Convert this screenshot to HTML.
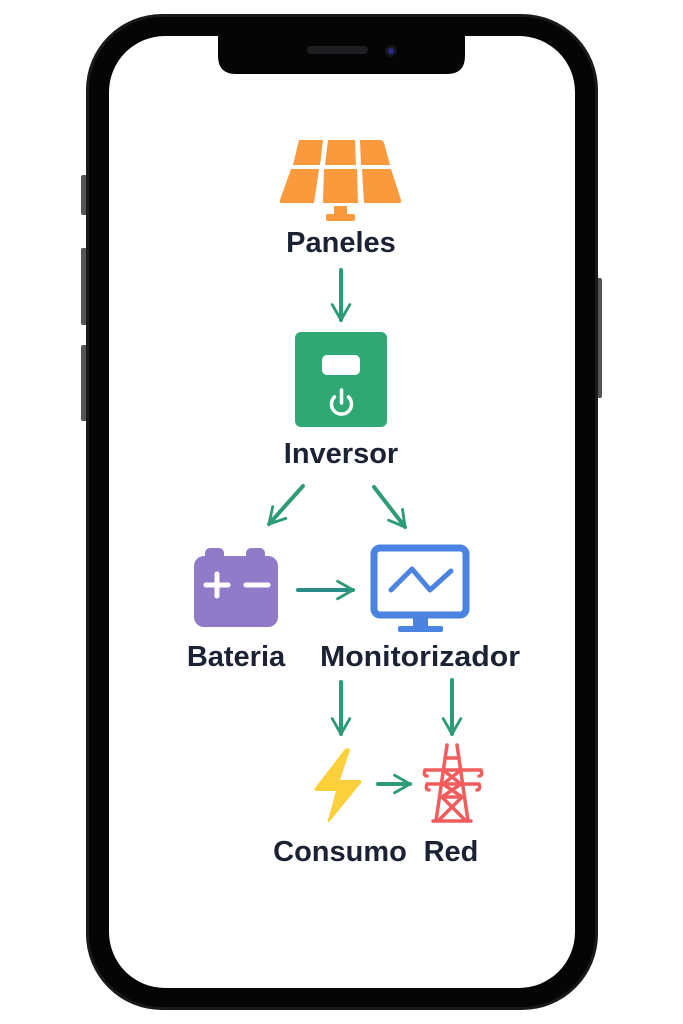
<!DOCTYPE html>
<html><head><meta charset="utf-8"><style>
html,body{margin:0;padding:0;background:#fff;width:683px;height:1024px;overflow:hidden}
svg{display:block}
text{font-family:"Liberation Sans","DejaVu Sans",sans-serif;font-weight:bold;fill:#1a2233;font-size:29px;text-anchor:middle}
</style></head><body>
<svg width="683" height="1024" viewBox="0 0 683 1024">
<defs>
<marker id="ah" viewBox="0 0 10 10" refX="8" refY="5" markerWidth="5.5" markerHeight="5.5" orient="auto" markerUnits="strokeWidth">
<path d="M1,1 L8,5 L1,9" fill="none" stroke="#2e9a78" stroke-width="1.3" stroke-linecap="round" stroke-linejoin="round"/>
</marker>
</defs>
<rect x="81" y="175" width="6" height="40" rx="2" fill="#555"/>
<rect x="81" y="248" width="6" height="77" rx="2" fill="#555"/>
<rect x="81" y="345" width="6" height="76" rx="2" fill="#555"/>
<rect x="596" y="278" width="6" height="120" rx="2" fill="#555"/>
<rect x="86" y="14" width="512" height="996" rx="76" fill="#1a1a1a"/>
<rect x="89" y="17" width="506" height="990" rx="73" fill="#050505"/>
<rect x="109" y="36" width="466" height="952" rx="56" fill="#fff"/>
<path d="M218,36 H465 V56 Q465,74 447,74 H236 Q218,74 218,56 Z" fill="#050505"/>
<rect x="307" y="46" width="61" height="8" rx="4" fill="#1e1e22"/>
<circle cx="391" cy="51" r="6" fill="#15151c"/><circle cx="391" cy="51" r="3" fill="#2a2a8a"/>
<g fill="#fa9a3c">
<path d="M299,140 H323 L320,165 H293 Z"/>
<path d="M328,140 H355 L356,165 H325 Z"/>
<path d="M360,140 H380 Q383,140 384,143 L390,165 H361 Z"/>
<path d="M291,169 H319 L314,203 H282 Q279,203 280,200 Z"/>
<path d="M324,169 H357 L358,203 H323 Z"/>
<path d="M362,169 H391 L401,200 Q402,203 399,203 H364 Z"/>
<rect x="334" y="206" width="13" height="9"/>
<rect x="326" y="214" width="29" height="7" rx="2"/>
</g>
<text x="341" y="252">Paneles</text>
<rect x="295" y="332" width="92" height="95" rx="6" fill="#2fa874"/>
<rect x="322" y="355" width="38" height="20" rx="5" fill="#fff"/>
<path d="M334.5,397 A10,10 0 1 0 348.5,397" fill="none" stroke="#fff" stroke-width="3.5" stroke-linecap="round"/>
<line x1="341.5" y1="390" x2="341.5" y2="403" stroke="#fff" stroke-width="3.5" stroke-linecap="round"/>
<text x="341" y="463">Inversor</text>
<g stroke="#2e9a78" stroke-width="4" stroke-linecap="round" fill="none" marker-end="url(#ah)">
<line x1="341" y1="270" x2="341" y2="320"/>
<line x1="303" y1="486" x2="269" y2="524"/>
<line x1="374" y1="487" x2="405" y2="527"/>
<line x1="298" y1="590" x2="353" y2="590" stroke="#2a8c86"/>
<line x1="341" y1="682" x2="341" y2="734"/>
<line x1="452" y1="680" x2="452" y2="734"/>
<line x1="378" y1="784" x2="410" y2="784"/>
</g>
<g fill="#8f7bc8">
<rect x="205" y="548" width="19" height="14" rx="5"/>
<rect x="246" y="548" width="19" height="14" rx="5"/>
<rect x="194" y="556" width="84" height="71" rx="10"/>
</g>
<g stroke="#fff" stroke-width="5" stroke-linecap="round">
<line x1="206" y1="585" x2="228" y2="585"/><line x1="217" y1="574" x2="217" y2="596"/>
<line x1="246" y1="585" x2="268" y2="585"/>
</g>
<text x="236" y="666">Bateria</text>
<rect x="374" y="548" width="92" height="67" rx="6" fill="none" stroke="#4a84e0" stroke-width="7"/>
<rect x="413" y="617" width="15" height="11" fill="#4a84e0"/>
<rect x="398" y="626" width="45" height="6" rx="2" fill="#4a84e0"/>
<polyline points="391,590 412,569 430,590 451,571" fill="none" stroke="#4a84e0" stroke-width="5" stroke-linecap="round" stroke-linejoin="round"/>
<text x="420" y="666" textLength="200" lengthAdjust="spacingAndGlyphs">Monitorizador</text>
<path d="M345,749 L315,788 Q313,791 317,791 H336 L328,820 Q327,824 330,821 L361,783 Q363,780 359,780 H340 L350,750 Q350,747 345,749 Z" fill="#fcd03b"/>
<g stroke="#f25c5c" stroke-width="3.5" fill="none" stroke-linecap="round" stroke-linejoin="round">
<path d="M447,745 L436,821 M457,745 L468,821"/>
<path d="M425,770 L481,770 M427,784 L479,784 M425,770 Q423,776 427,776 M481,770 Q483,776 479,776 M427,784 Q425,790 429,790 M479,784 Q481,790 477,790"/>
<path d="M445,758 L459,758 M443,770 L461,784 M461,770 L443,784 M442,797 L462,797 M443,784 L462,797 M461,784 L442,797 M442,797 L466,821 M462,797 L438,821 M433,821 L471,821"/>
</g>
<text x="340" y="861">Consumo</text>
<text x="451" y="861">Red</text>
</svg>
</body></html>
